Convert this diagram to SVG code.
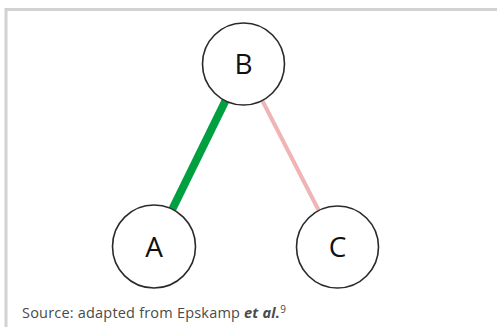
<svg xmlns="http://www.w3.org/2000/svg" width="497" height="327" viewBox="0 0 497 327">
<style>
.node circle{fill:#fff;stroke:#2a2a2a;stroke-width:1.6}
.node text{font-family:"Open Sans","Liberation Sans",sans-serif;font-size:28px;fill:#111;text-anchor:middle}
.frame{fill:none;stroke:#d2d2d2;stroke-width:3}
.src{font-family:"Open Sans","Liberation Sans",sans-serif;font-size:14.5px;letter-spacing:0.2px;fill:#4a4a4a}
</style>
<rect width="497" height="327" fill="#fff"/>
<path class="frame" d="M6 327 V9.5 H497"/>
<g id="connectors">
<line x1="243.5" y1="64" x2="154" y2="246.5" stroke="#00a040" stroke-width="8"/>
<line x1="243.5" y1="64" x2="337.5" y2="247" stroke="#efb5b5" stroke-width="4"/>
</g>
<g id="node-B" class="node"><circle cx="243.5" cy="64" r="41"/><text x="243.5" y="74">B</text></g>
<g id="node-A" class="node"><circle cx="154" cy="246.5" r="41.5"/><text x="154" y="256.5">A</text></g>
<g id="node-C" class="node"><circle cx="337.5" cy="247" r="41"/><text x="337.5" y="257">C</text></g>
<text class="src" x="22" y="318">Source: adapted from Epskamp <tspan font-weight="bold" font-style="italic">et al.</tspan><tspan font-size="10" dy="-5">9</tspan></text>
</svg>
